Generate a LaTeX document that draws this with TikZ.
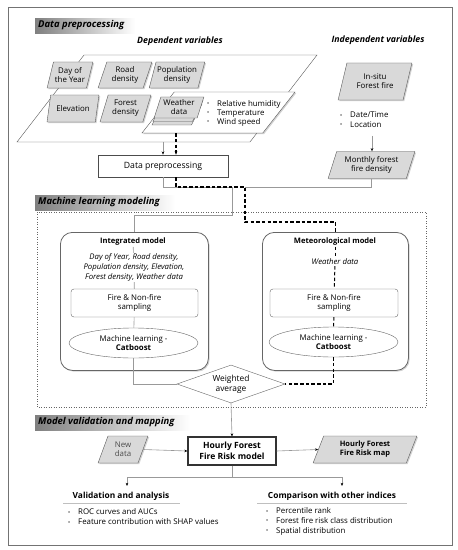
\documentclass[tikz,border=0pt]{standalone}
\usepackage{fontspec}
\setmainfont{Open Sans}
\usetikzlibrary{shapes.geometric,shadows,arrows.meta,calc}
\newcommand\bul{\makebox[10bp][l]{\raisebox{0.2ex}{\scalebox{0.7}{•}}}}
\begin{document}
\begin{tikzpicture}[x=1bp,y=-1bp,
  font=\fontsize{7.9}{9}\selectfont,
  shd/.style={drop shadow={shadow xshift=1.2pt,shadow yshift=-1.2pt,opacity=0.35}},
  parab/.style={trapezium, trapezium left angle=70, trapezium right angle=110,
     trapezium stretches=true, draw=black!65, fill=black!15, align=center,
     inner sep=1pt},
  para/.style={parab, shd},
  wpara/.style={para, fill=white},
  hdr/.style={left color=black!50, right color=white, minimum height=15bp,
     inner sep=0pt, anchor=north west},
  hdrtxt/.style={font=\fontsize{9.5}{10}\selectfont\bfseries\itshape, anchor=west, inner sep=0pt},
  subtxt/.style={font=\fontsize{8.8}{10}\selectfont\bfseries\itshape, inner sep=0pt},
  gl/.style={draw=black!40, line width=0.6pt},
  dl/.style={draw=black, line width=1.2pt, dash pattern=on 3.5pt off 2.2pt},
  arr/.style={-{Stealth[length=3.2pt,width=2.6pt,color=black]}},
  modelbox/.style={draw=black!60, line width=0.8pt, rounded corners=12bp, fill=white,
     minimum width=148bp, minimum height=138bp, anchor=north west, shd},
  firebox/.style={draw=black!60, rounded corners=3bp, fill=white, align=center,
     minimum width=127bp, minimum height=28bp, inner sep=0pt},
  mlell/.style={ellipse, draw=black!60, fill=white, align=center,
     minimum width=129bp, minimum height=30bp, inner sep=0pt},
  bultxt/.style={align=left, anchor=west, inner sep=0pt}
]
\useasboundingbox (0,0) rectangle (458,550);
\fill[white] (0,0) rectangle (458,550);
% outer frame
\draw[black!55, line width=0.8pt] (8,7) rectangle (452,545);

% ===== Data preprocessing =====
\node[hdr, minimum width=100bp] (h1) at (35,18) {};
\node[hdrtxt] (h1t) at (38,25.5) {Data preprocessing};
\node[subtxt] (dep) at (180,41) {Dependent variables};
\node[subtxt] (indep) at (378,40) {Independent variables};

\node[parab, fill=white, trapezium left angle=68, trapezium right angle=112,
  minimum width=300bp, minimum height=87bp] (big) at (167,98.5) {};

\node[para, minimum width=46bp, minimum height=26bp] (doy) at (70,75) {Day of\\the Year};
\node[para, minimum width=54bp, minimum height=26bp] (road) at (125,75) {Road\\density};
\node[para, minimum width=54bp, minimum height=26bp] (pop) at (177,75) {Population\\density};
\node[para, minimum width=52bp, minimum height=27bp] (elev) at (73,108.5) {Elevation};
\node[para, minimum width=51bp, minimum height=27bp] (forest) at (125.5,108.5) {Forest\\density};

\node[wpara, minimum width=153bp, minimum height=41bp] (wbox) at (218.5,112.5) {};
\node[parab, minimum width=50bp, minimum height=21bp] (wl3) at (177,114.5) {};
\node[parab, minimum width=50bp, minimum height=21bp] (wl2) at (178,111) {};
\node[parab, minimum width=50bp, minimum height=21bp] (wdata) at (179,107.5) {Weather\\data};
\node[bultxt] (wbul) at (207,113) {\bul Relative humidity\\\bul Temperature\\\bul Wind speed};

\node[para, minimum width=74bp, minimum height=37bp] (insitu) at (375,81.5) {In-situ\\Forest fire};
\node[bultxt, font=\fontsize{7.9}{10}\selectfont] (ibul) at (340,120) {\bul Date/Time\\\bul Location};
\node[para, minimum width=87bp, minimum height=27bp] (mfd) at (371.5,165) {Monthly forest\\fire density};

\node[draw=black!70, line width=0.7pt, fill=white, minimum width=130bp, minimum height=22bp,
  inner sep=0pt, font=\fontsize{8.7}{10}\selectfont] (dp) at (163,166) {Data preprocessing};

\coordinate (insb) at (372,136);
\draw[gl, arr] (insb) -- (mfd.north -| insb);
\draw[gl, arr] (dp.north |- big.south) -- (dp.north);
\draw[dl, arr] ([xshift=13bp]dp.north |- wbox.south) -- ([xshift=13bp]dp.north);

% ===== Machine learning modeling =====
\node[hdr, minimum width=140bp] (h2) at (35,195) {};
\node[hdrtxt] (h2t) at (38,202.5) {Machine learning modeling};
\draw[black!60, line width=0.5pt, dotted] (37,212) rectangle (426,407);

\node[modelbox] (intm) at (60,232) {};
\node[font=\fontsize{7.6}{9}\selectfont\bfseries, inner sep=1pt] (intt) at (133,242) {Integrated model};
\node[font=\fontsize{7.8}{9.6}\selectfont\itshape, align=center, inner sep=1pt] (intv) at (134,267.5)
  {Day of Year, Road density,\\Population density, Elevation,\\Forest density, Weather data};
\node[firebox] (intf) at (134.5,303) {Fire \& Non-fire\\sampling};
\node[mlell] (intml) at (133.5,343) {Machine learning -\\\textbf{Catboost}};
\draw[gl] (intt) -- (intv);
\draw[gl] (intv) -- (intf);
\draw[gl] (intf) -- (intml);

\node[modelbox, minimum width=146bp] (metm) at (262,232) {};
\node[font=\fontsize{7.6}{9}\selectfont\bfseries, inner sep=1pt] (mett) at (335,242) {Meteorological model};
\node[font=\fontsize{7.8}{9}\selectfont\itshape, inner sep=1pt] (metv) at (335,262) {Weather data};
\node[firebox, minimum width=128bp] (metf) at (334,303) {Fire \& Non-fire\\sampling};
\node[mlell] (metml) at (333.5,342) {Machine learning -\\\textbf{Catboost}};
\draw[dl, line width=1pt] (mett) -- (metv);
\draw[dl, line width=1pt] (metv) -- (metf);
\draw[dl, line width=1pt] (metf) -- (metml);

\node[diamond, draw=black!60, fill=white, aspect=2.8, inner sep=0pt, align=center,
  minimum width=108bp, minimum height=38bp, font=\fontsize{8.4}{10}\selectfont] (wa) at (231,384) {Weighted\\average};
\draw[gl] (intml.south) |- (wa.west);
\draw[dl] (metml.south) |- (wa.east);

% connectors from data preprocessing
\draw[gl] (dp.south) |- (232,187) -- (232,215) -| (intm.north);
\draw[gl] (mfd.south) |- (245,187);
\draw[dl] ([xshift=13bp]dp.south) |- (245,187) -- (245,222) -| (metm.north);

% ===== Model validation and mapping =====
\node[hdr, minimum width=155bp] (h3) at (35,415) {};
\node[hdrtxt] (h3t) at (38,422.5) {Model validation and mapping};

\node[draw=black!80, line width=1.1pt, fill=white, minimum width=88bp, minimum height=28bp,
  inner sep=0pt, align=center, font=\fontsize{8.6}{10.5}\selectfont\bfseries] (hfr) at (232,451)
  {Hourly Forest\\Fire Risk model};
\node[para, minimum width=50bp, minimum height=27bp, text=black!70] (nd) at (123,449.5) {New\\data};
\node[para, minimum width=104bp, minimum height=27bp, font=\fontsize{7.5}{9}\selectfont\bfseries] (map) at (365,449.5) {Hourly Forest\\Fire Risk map};

\draw[gl, arr] (wa.south) -- (hfr.north);
\draw[gl, arr] (nd.east) -- (hfr.west);
\draw[gl, arr] (hfr.east) -- (map.west);

\coordinate (split) at (232,477);
\coordinate (vtip) at (127,486);
\coordinate (ctip) at (342,486);
\draw[gl] (hfr.south) -- (split);
\draw[gl, arr] (split) -| (vtip);
\draw[gl, arr] (split) -| (ctip);

\node[font=\fontsize{8.4}{10}\selectfont\bfseries, inner sep=0pt] (va) at (121,496.5) {Validation and analysis};
\draw[black!25, line width=0.6pt] (63,503) -- (180,503);
\node[bultxt, font=\fontsize{7.9}{10}\selectfont] (vabul) at (68,517) {\bul ROC curves and AUCs\\\bul Feature contribution with SHAP values};

\node[font=\fontsize{8.4}{10}\selectfont\bfseries, inner sep=0pt] (cmp) at (332,496.5) {Comparison with other indices};
\draw[black!25, line width=0.6pt] (257,503) -- (407,503);
\node[bultxt, font=\fontsize{7.9}{9.6}\selectfont] (cmpbul) at (266,521.5) {\bul Percentile rank\\\bul Forest fire risk class distribution\\\bul Spatial distribution};
\end{tikzpicture}
\end{document}
